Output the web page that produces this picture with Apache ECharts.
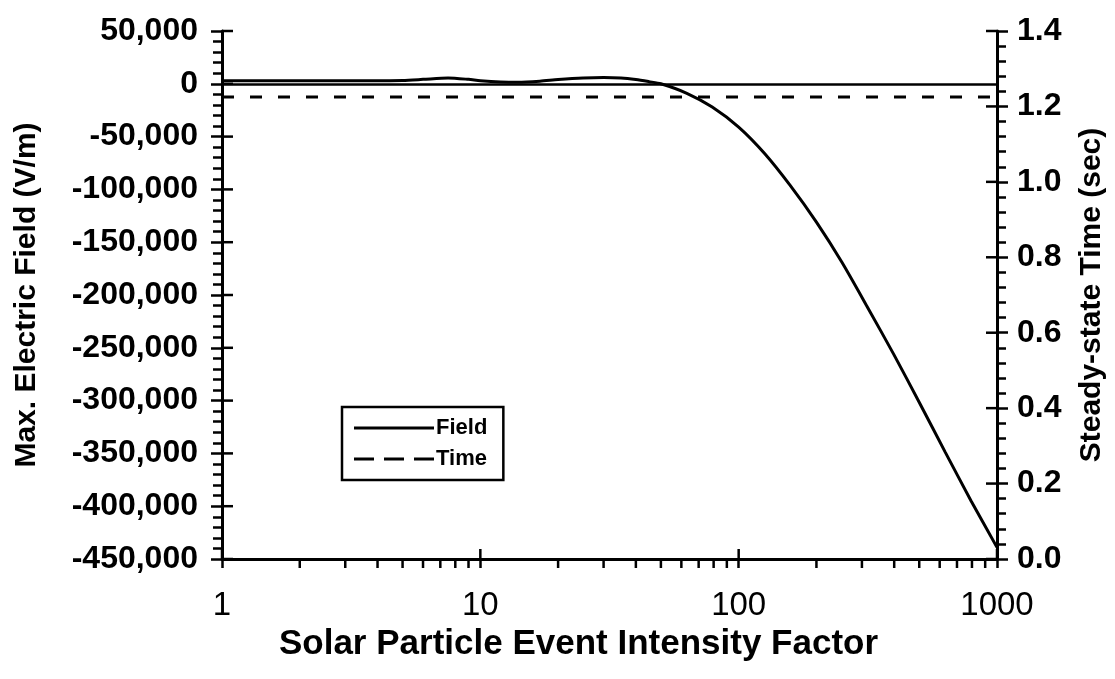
<!DOCTYPE html>
<html><head><meta charset="utf-8">
<script src="https://cdn.jsdelivr.net/npm/echarts@6/dist/echarts.min.js"></script>
<style>html,body{margin:0;padding:0;background:#fff}#c{width:1115px;height:679px}</style>
</head><body><div id="c"></div>
<script>
// Data
const fieldX = [1, 1.5, 2, 3, 4, 5, 6, 7.5, 9, 10, 12, 14, 17, 20, 25, 30, 35, 40, 45, 50, 63, 79, 100, 126, 158, 200, 251, 316, 398, 501, 631, 794, 1000];
const fieldY = [2800, 2800, 2800, 2800, 2800, 3200, 4200, 5500, 4200, 3000, 1800, 1500, 2500, 4000, 5500, 6000, 5500, 4000, 2000, 0, -9000, -22000, -41000, -66000, -96000, -131000, -169000, -212000, -256000, -302000, -349000, -395000, -439000];
const timeX = [1, 2, 5, 10, 20, 50, 100, 200, 500, 1000];
const timeY = [1.225, 1.225, 1.225, 1.225, 1.225, 1.225, 1.225, 1.225, 1.225, 1.225];
const xMajorTicks = [1, 10, 100, 1000];
const xMinorTicks = [2, 3, 4, 5, 6, 7, 8, 9, 20, 30, 40, 50, 60, 70, 80, 90, 200, 300, 400, 500, 600, 700, 800, 900];
const leftMajorTicks = [50000, 0, -50000, -100000, -150000, -200000, -250000, -300000, -350000, -400000, -450000];
const rightMajorTicks = [0, 0.2, 0.4, 0.6, 0.8, 1.0, 1.2, 1.4];

const FONT = "'Liberation Sans', Arial, sans-serif";
const chart = echarts.init(document.getElementById('c'));

function tickSeries(name, data, axisKind, dirA, dirB, yAxisIndex) {
  return {
    type: 'custom', name: name, silent: true, legendHoverLink: false,
    yAxisIndex: yAxisIndex || 0,
    coordinateSystem: 'cartesian2d',
    data: data,
    renderItem: function (params, api) {
      const v = api.value(0);
      const cs = params.coordSys;
      let p;
      if (axisKind === 'x') {
        p = api.coord([v, yAxisIndex ? 0 : -450000]);
        return { type: 'line', shape: { x1: p[0], y1: cs.y + cs.height + dirA, x2: p[0], y2: cs.y + cs.height + dirB },
          style: { stroke: '#000', lineWidth: 2.5 } };
      } else if (axisKind === 'yl') {
        p = api.coord([1, v]);
        return { type: 'line', shape: { x1: cs.x + dirA, y1: p[1], x2: cs.x + dirB, y2: p[1] },
          style: { stroke: '#000', lineWidth: 2.5 } };
      } else {
        p = api.coord([1, v]);
        return { type: 'line', shape: { x1: cs.x + cs.width + dirA, y1: p[1], x2: cs.x + cs.width + dirB, y2: p[1] },
          style: { stroke: '#000', lineWidth: 2.5 } };
      }
    },
    encode: { x: 0, y: 0 },
    z: 10
  };
}

const option = {
  animation: false,
  backgroundColor: '#fff',
  grid: { left: 222, right: 118, top: 31, bottom: 120, containLabel: false },
  legend: {
    orient: 'vertical', left: 342, top: 407,
    data: [
      { name: 'Field', icon: 'path://M0,0h80v3h-80z' },
      { name: 'Time', icon: 'path://M0,0h20v3h-20z M30,0h20v3h-20z M60,0h20v3h-20z' }
    ],
    borderColor: '#000', borderWidth: 2.5, backgroundColor: '#fff',
    padding: [10, 16, 10, 12], itemGap: 9,
    itemWidth: 80, itemHeight: 3,
    textStyle: { fontFamily: FONT, fontWeight: 'bold', fontSize: 22, color: '#000', padding: [0, 0, 0, -3] },
    selectedMode: false
  },
  xAxis: {
    type: 'log', logBase: 10, min: 1, max: 1000,
    axisLine: { onZero: false, lineStyle: { color: '#000', width: 3 } },
    axisTick: { show: true, length: 9, lineStyle: { color: '#000', width: 2.5 } },
    minorTick: { show: false },
    splitLine: { show: false },
    axisLabel: { fontFamily: FONT, fontSize: 33, color: '#000', margin: 30, formatter: v => String(v) },
    name: 'Solar Particle Event Intensity Factor', nameLocation: 'middle', nameGap: 68,
    nameTextStyle: { fontFamily: FONT, fontWeight: 'bold', fontSize: 35, color: '#000', padding: [0, 62, 0, 0] }
  },
  yAxis: [{
    type: 'value', min: -450000, max: 50000, interval: 50000,
    axisLine: { show: true, onZero: false, lineStyle: { color: '#000', width: 3 } },
    axisTick: { show: true, length: 11, lineStyle: { color: '#000', width: 2.5 } },
    minorTick: { show: true, splitNumber: 5, length: 9, lineStyle: { color: '#000', width: 2.5 } },
    splitLine: { show: false },
    axisLabel: { fontFamily: FONT, fontWeight: 'bold', fontSize: 32, color: '#000', margin: 24,
      formatter: v => v.toLocaleString('en-US') },
    name: 'Max. Electric Field (V/m)', nameLocation: 'middle', nameGap: 180, nameRotate: 90,
    nameTextStyle: { fontFamily: FONT, fontWeight: 'bold', fontSize: 30, color: '#000' }
  }, {
    type: 'value', min: 0, max: 1.4, interval: 0.2, position: 'right',
    axisLine: { show: true, onZero: false, lineStyle: { color: '#000', width: 3 } },
    axisTick: { show: true, length: 11, lineStyle: { color: '#000', width: 2.5 } },
    minorTick: { show: true, splitNumber: 5, length: 9, lineStyle: { color: '#000', width: 2.5 } },
    splitLine: { show: false },
    axisLabel: { fontFamily: FONT, fontWeight: 'bold', fontSize: 32, color: '#000', margin: 20,
      formatter: v => v.toFixed(1) },
    name: 'Steady-state Time (sec)', nameLocation: 'middle', nameGap: 80, nameRotate: 90,
    nameTextStyle: { fontFamily: FONT, fontWeight: 'bold', fontSize: 30, color: '#000' }
  }],
  series: [
    {
      name: 'Field', type: 'line', yAxisIndex: 0, symbol: 'none', smooth: 0.25,
      data: fieldX.map((x, i) => [x, fieldY[i]]),
      lineStyle: { color: '#000', width: 3, type: 'solid' },
      itemStyle: { color: '#000' },
      markLine: {
        silent: true, symbol: 'none', label: { show: false },
        lineStyle: { color: '#000', width: 2.5, type: 'solid' },
        data: [{ yAxis: 0 }]
      },
      z: 5
    },
    {
      name: 'Time', type: 'line', yAxisIndex: 1, symbol: 'none',
      data: timeX.map((x, i) => [x, timeY[i]]),
      lineStyle: { color: '#000', width: 3, type: [12, 16] },
      itemStyle: { color: '#000' },
      z: 5
    },
    tickSeries('xmajorIn', xMajorTicks.map(v => [v]), 'x', 0, -10, 0),
    tickSeries('xminor', xMinorTicks.map(v => [v]), 'x', 0, 9, 0),
    tickSeries('ylIn', leftMajorTicks.map(v => [v]), 'yl', 0, 11, 0),
    tickSeries('yrIn', rightMajorTicks.map(v => [v]), 'yr', 0, -11, 1)
  ]
};
chart.setOption(option);
</script>
</body></html>
